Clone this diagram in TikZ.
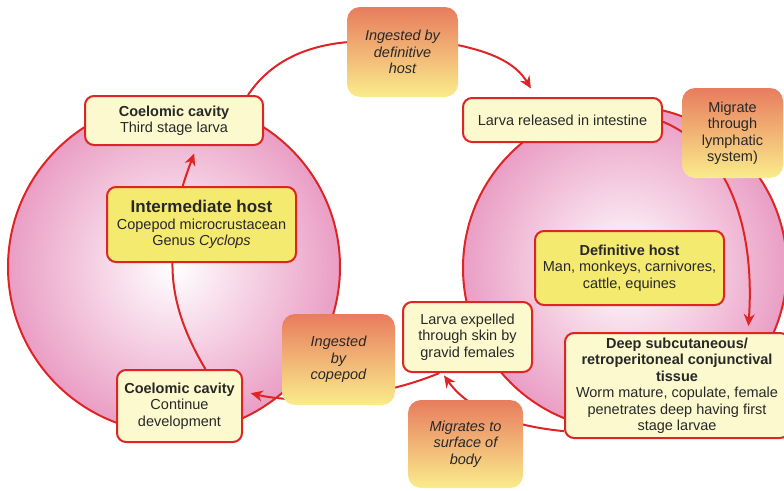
\documentclass[tikz,border=0pt]{standalone}
\usepackage{fontspec}
\setmainfont{Liberation Sans}
\usetikzlibrary{arrows.meta}

\definecolor{ringred}{RGB}{222,36,36}
\definecolor{hostpink}{RGB}{234,158,197}
\definecolor{paleyellow}{RGB}{252,249,206}
\definecolor{hostyellow}{RGB}{245,234,112}
\definecolor{acttop}{RGB}{232,124,94}
\definecolor{actbot}{RGB}{250,236,140}
\definecolor{txtgray}{RGB}{40,40,40}

\pgfdeclarelayer{hosts}
\pgfdeclarelayer{links}
\pgfsetlayers{hosts,links,main}

\begin{document}
\begin{tikzpicture}[x=1pt, y=-1pt, >={Stealth[length=12pt,width=11pt]},
    stagebox/.style={draw=ringred, line width=2pt, fill=paleyellow, rounded corners=9pt,
      align=center, inner sep=0pt, text=txtgray, font=\fontsize{14.5}{16.5}\selectfont},
    hostbox/.style={stagebox, fill=hostyellow},
    actbox/.style={rounded corners=13pt, top color=acttop, bottom color=actbot, align=center,
      inner sep=0pt, text=txtgray, font=\fontsize{14.5}{16.5}\selectfont\itshape},
    link/.style={draw=ringred, line width=2pt}]
  \useasboundingbox (0,0) rectangle (784,490);
  \clip (0,0) rectangle (784,490);

  % the two hosts
  \begin{pgfonlayer}{hosts}
    \path[draw=ringred, line width=2pt, inner color=white, outer color=hostpink]
      (174,267) circle[radius=166pt];
    \path[draw=ringred, line width=2pt, inner color=white, outer color=hostpink]
      (625,268) circle[radius=162pt];
  \end{pgfonlayer}

  % stages
  \node[stagebox, minimum width=178pt, minimum height=49pt] (thirdlarva) at (174,120.5)
    {\textbf{Coelomic cavity}\\Third stage larva};
  \node[hostbox, minimum width=189pt, minimum height=75pt] (inthost) at (201.5,224.5)
    {{\fontsize{17}{19}\selectfont\bfseries Intermediate host}\\Copepod microcrustacean\\Genus \textit{Cyclops}};
  \node[stagebox, minimum width=125pt, minimum height=72pt] (contdev) at (179.5,406)
    {\textbf{Coelomic cavity}\\Continue\\development};
  \node[stagebox, minimum width=199pt, minimum height=44pt] (released) at (562.5,120)
    {Larva released in intestine};
  \node[hostbox, minimum width=189pt, minimum height=74pt] (defhost) at (629.5,268)
    {\textbf{Definitive host}\\Man, monkeys, carnivores,\\cattle, equines};
  \node[stagebox, minimum width=129pt, minimum height=70pt] (expelled) at (467.5,337)
    {Larva expelled\\through skin by\\gravid females};
  \node[stagebox, minimum width=224pt, minimum height=105pt] (deep) at (677,385.5)
    {\textbf{Deep subcutaneous/}\\\textbf{retroperitoneal conjunctival}\\\textbf{tissue}\\Worm mature, copulate, female\\penetrates deep having first\\stage larvae};

  % transfers
  \node[actbox, minimum width=111pt, minimum height=90pt] (ingdef) at (402.5,52)
    {Ingested by\\definitive\\host};
  \node[actbox, minimum width=101pt, minimum height=90pt, font=\fontsize{14.5}{16.5}\selectfont] (lymph) at (732.5,133)
    {Migrate\\through\\lymphatic\\system)};
  \node[actbox, minimum width=115pt, minimum height=88pt] (surface) at (465.5,444)
    {Migrates to\\surface of\\body};
  \node[actbox, minimum width=113pt, minimum height=91pt] (ingcope) at (338.5,359.5)
    {Ingested\\by\\copepod};

  % cycle
  \begin{pgfonlayer}{links}
    \draw[link] (contdev.55) .. controls (185,335) and (172,300) .. (inthost.233);
    \draw[link, ->, shorten >=8pt] (inthost.116) .. controls (187,172) and (191,162) .. (thirdlarva.-48);
    \draw[link] (thirdlarva.19.5) .. controls (270,62) and (305,46) .. (ingdef.170);
    \draw[link, ->, shorten >=10pt] (ingdef.7) .. controls (490,52) and (515,62) .. (released.139);
    \draw[link, ->, shorten >=6pt] (released.-1) .. controls (730,150) and (755,230) .. (deep.37);
    \draw[link, ->, shorten >=3pt] (deep.202) .. controls (500,425) and (465,405) .. (expelled.235);
    \draw[link, ->, shorten >=8pt] (expelled.-128) .. controls (380,398) and (300,405) .. (contdev.13);
  \end{pgfonlayer}
\end{tikzpicture}
\end{document}
